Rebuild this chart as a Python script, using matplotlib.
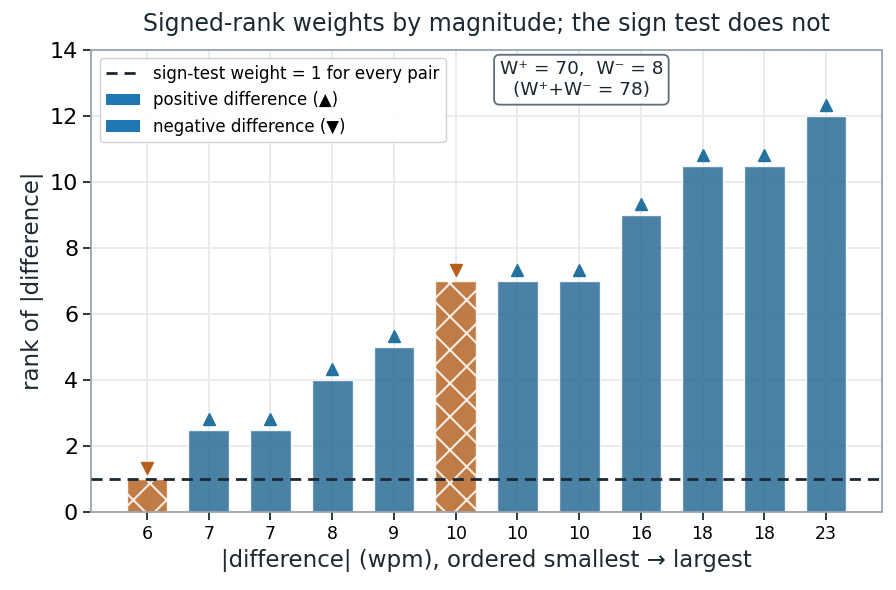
import matplotlib
matplotlib.use("Agg")
import matplotlib.pyplot as plt
from matplotlib.lines import Line2D
from matplotlib.patches import Patch
import numpy as np

# sorted |difference| (wpm), their ranks, and sign of the difference
abs_diff = [6, 7, 7, 8, 9, 10, 10, 10, 16, 18, 18, 23]
ranks = [1.0, 2.5, 2.5, 4.0, 5.0, 7.0, 7.0, 7.0, 9.0, 10.5, 10.5, 12.0]
positive = [False, True, True, True, True, False, True, True, True, True, True, True]

w_plus = 70
w_minus = 8

BLUE = "#2f6f99"
ORANGE = "#b8692a"
BLUE_MK = "#25719f"
ORANGE_MK = "#b5601b"
DARK = "#1c2833"
SPINE = "#9aa4ae"

plt.rcParams["hatch.color"] = "#f8e8d8"
plt.rcParams["hatch.linewidth"] = 1.5

fig, ax = plt.subplots(figsize=(8.96, 5.9), dpi=100)
x = np.arange(len(abs_diff))

for i, (r, pos) in enumerate(zip(ranks, positive)):
    if pos:
        ax.bar(x[i], r, width=0.66, color=BLUE, alpha=0.87, edgecolor="white",
               linewidth=1.0, zorder=2)
        ax.plot(x[i], r + 0.33, marker="^", color=BLUE_MK, ms=8, ls="none", zorder=4)
    else:
        ax.bar(x[i], r, width=0.66, color=ORANGE, alpha=0.87, edgecolor="white",
               linewidth=1.0, hatch="x", zorder=2)
        ax.plot(x[i], r + 0.33, marker="v", color=ORANGE_MK, ms=8, ls="none", zorder=4)

ax.axhline(1, color=DARK, ls="--", lw=2, dashes=(4, 2.5), zorder=3)

ax.set_xlim(-0.9, 11.9)
ax.set_ylim(0, 14)
ax.set_xticks(x)
ax.set_xticklabels([str(v) for v in abs_diff], fontsize=12.5)
ax.tick_params(axis="y", labelsize=16)
ax.tick_params(axis="both", color=DARK, length=6, width=1.3)
ax.grid(True, color="#e6eaee", lw=1.3, zorder=0)
ax.set_axisbelow(True)
for s in ax.spines.values():
    s.set_color(SPINE)
    s.set_linewidth(1.3)

ax.set_xlabel("|difference| (wpm), ordered smallest \u2192 largest", fontsize=16.5, color=DARK)
ax.set_ylabel("rank of |difference|", fontsize=16.5, color=DARK)
ax.set_title("Signed-rank weights by magnitude; the sign test does not",
             fontsize=17, color=DARK, pad=14)

handles = [
    Line2D([0], [0], color=DARK, ls="--", lw=2, dashes=(4, 2.5)),
    Patch(facecolor="#1f77b4"),
    Patch(facecolor="#1f77b4"),
]
labels = ["sign-test weight = 1 for every pair",
          "positive difference (\u25b2)",
          "negative difference (\u25bc)"]
ax.legend(handles, labels, loc="upper left", fontsize=12, framealpha=0.9,
          edgecolor="#cccccc")

ax.text(0.62, 0.978, f"W\u207a = {w_plus},  W\u207b = {w_minus}\n(W\u207a+W\u207b = {w_plus + w_minus})",
        transform=ax.transAxes, ha="center", va="top", fontsize=13.3, color=DARK,
        bbox=dict(boxstyle="round,pad=0.3", facecolor="white", edgecolor="#5d6d7e", lw=1.3))

fig.subplots_adjust(left=0.102, right=0.984, top=0.915, bottom=0.132)
fig.savefig("out.png", dpi=100)
